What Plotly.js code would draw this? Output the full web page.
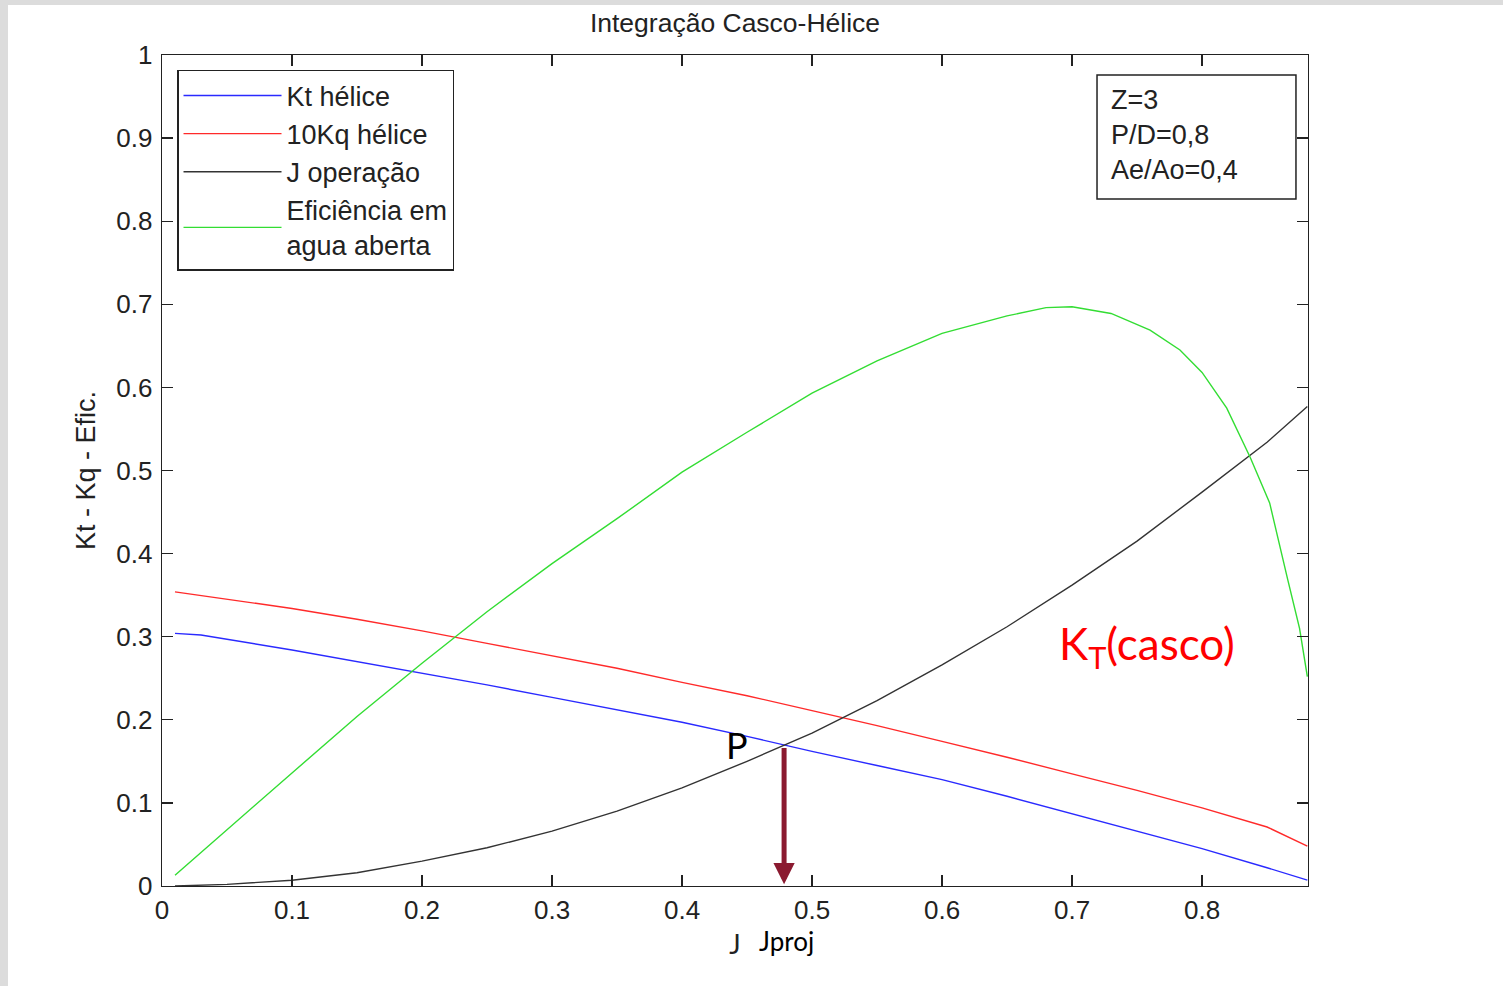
<!DOCTYPE html>
<html>
<head>
<meta charset="utf-8">
<script src="https://cdn.plot.ly/plotly-3.0.1.min.js"></script>
<style>
html,body{margin:0;padding:0;background:#dcdcdc;overflow:hidden;}
#chart{position:absolute;left:8px;top:5px;width:1495px;height:981px;background:#fff;}
</style>
</head>
<body>
<div id="chart"></div>
<script>
// J values (advance coefficient)
const jKt = [0.01,0.03,0.1,0.15,0.2,0.25,0.3,0.35,0.4,0.45,0.5,0.55,0.6,0.65,0.7,0.75,0.8,0.85,0.881];
const ktHelice = [0.304,0.302,0.284,0.270,0.256,0.242,0.227,0.212,0.197,0.180,0.162,0.145,0.128,0.108,0.087,0.066,0.045,0.022,0.007];

const jKq = [0.01,0.05,0.1,0.15,0.2,0.25,0.3,0.35,0.4,0.45,0.5,0.55,0.6,0.65,0.7,0.75,0.8,0.85,0.881];
const kq10Helice = [0.354,0.345,0.334,0.321,0.307,0.292,0.277,0.262,0.245,0.229,0.211,0.193,0.174,0.155,0.135,0.115,0.094,0.071,0.048];

const jOp = [0.01,0.05,0.1,0.15,0.2,0.25,0.3,0.35,0.4,0.45,0.5,0.55,0.6,0.65,0.7,0.75,0.8,0.85,0.881];
const jOperacao = [0.0,0.002,0.007,0.016,0.030,0.046,0.066,0.090,0.118,0.150,0.184,0.223,0.266,0.312,0.362,0.415,0.474,0.534,0.577];

const jEf = [0.01,0.05,0.1,0.15,0.2,0.25,0.283,0.3,0.35,0.4,0.45,0.5,0.55,0.6,0.65,0.68,0.7,0.73,0.76,0.783,0.8,0.819,0.837,0.852,0.866,0.875,0.881];
const eficiencia = [0.013,0.068,0.136,0.204,0.268,0.330,0.368,0.388,0.442,0.498,0.546,0.593,0.632,0.665,0.686,0.696,0.697,0.689,0.669,0.645,0.618,0.575,0.516,0.461,0.368,0.310,0.252];

const xTicks = [0,0.1,0.2,0.3,0.4,0.5,0.6,0.7,0.8];
const xTickText = ['0','0.1','0.2','0.3','0.4','0.5','0.6','0.7','0.8'];
const yTicks = [0,0.1,0.2,0.3,0.4,0.5,0.6,0.7,0.8,0.9,1];
const yTickText = ['0','0.1','0.2','0.3','0.4','0.5','0.6','0.7','0.8','0.9','1'];

const jProj = 0.4785;   // design point J
const ktProj = 0.168;   // Kt at point P
const pointLabel = {j: 0.4423, v: 0.170, text: 'P'};
const cascoLabel = {j: 0.758, v: 0.288, text: 'K<sub>T</sub>(casco)'};
const propText = 'Z=3<br>P/D=0,8<br>Ae/Ao=0,4';

const F = 'Arial, "Liberation Sans", sans-serif';
const G = 'Lato, "Open Sans", sans-serif';

const traces = [
  {x: jKt, y: ktHelice, name: 'Kt hélice', mode: 'lines', line: {color: '#2a2aff', width: 1.4}},
  {x: jKq, y: kq10Helice, name: '10Kq hélice', mode: 'lines', line: {color: '#ff2a2a', width: 1.4}},
  {x: jOp, y: jOperacao, name: 'J operação', mode: 'lines', line: {color: '#333333', width: 1.4}},
  {x: jEf, y: eficiencia, name: 'Eficiência em<br>agua aberta', mode: 'lines', line: {color: '#33dd33', width: 1.4}}
];

const axisCommon = {
  showgrid: false, zeroline: false, showline: true, linecolor: '#222', linewidth: 1.3,
  mirror: 'allticks', ticks: 'inside', ticklen: 11, tickcolor: '#222', tickwidth: 1.3,
  tickfont: {family: F, size: 26, color: '#222'}, tickmode: 'array'
};

const layout = {
  width: 1495, height: 981,
  margin: {l: 154, r: 195, t: 50, b: 100},
  paper_bgcolor: '#ffffff', plot_bgcolor: '#ffffff',
  title: {text: 'Integração Casco-Hélice', font: {family: F, size: 26.5, color: '#222'}, x: 0.5, xref: 'paper', y: 0.982, yanchor: 'middle'},
  xaxis: Object.assign({}, axisCommon, {range: [0, 0.8815], tickvals: xTicks, ticktext: xTickText, ticklabelstandoff: 0,
    title: {text: 'J', font: {family: G, size: 27, color: '#222'}, standoff: 11}}),
  yaxis: Object.assign({}, axisCommon, {range: [0, 1], tickvals: yTicks, ticktext: yTickText, ticklabelstandoff: 3,
    title: {text: 'Kt - Kq - Efic.', font: {family: F, size: 27, color: '#222'}, standoff: 13}}),
  showlegend: true,
  legend: {x: 0.0131, y: 0.982, xanchor: 'left', yanchor: 'top', bgcolor: '#ffffff',
    bordercolor: '#222', borderwidth: 1.5, font: {family: F, size: 27, color: '#222'},
    itemwidth: 98, tracegroupgap: 0},
  shapes: [
    {type: 'rect', xref: 'paper', yref: 'paper', x0: 0.8159, x1: 0.9895, y0: 0.8267, y1: 0.9759,
     line: {color: '#222', width: 1.5}, fillcolor: '#ffffff'}
  ],
  annotations: [
    {xref: 'paper', yref: 'paper', x: 0.8265, y: 0.966, xanchor: 'left', yanchor: 'top', align: 'left',
     showarrow: false, text: propText, font: {family: F, size: 27, color: '#222'}},
    {x: pointLabel.j, y: pointLabel.v, xref: 'x', yref: 'y', text: pointLabel.text, showarrow: false,
     font: {family: G, size: 36, color: '#000'}},
    {x: cascoLabel.j, y: cascoLabel.v, xref: 'x', yref: 'y', text: cascoLabel.text, showarrow: false,
     font: {family: G, size: 44, color: '#ff0000'}},
    {x: jProj, y: 0.002, xref: 'x', yref: 'y', ax: jProj, ay: ktProj, axref: 'x', ayref: 'y',
     showarrow: true, arrowhead: 2, arrowsize: 0.85, arrowwidth: 5, arrowcolor: '#8b1a30', text: ''},
    {x: jProj + 0.002, xref: 'x', yref: 'paper', y: -0.066, text: 'Jproj', showarrow: false, yanchor: 'middle',
     font: {family: G, size: 26, color: '#000'}}
  ]
};

Plotly.newPlot('chart', traces, layout, {displayModeBar: false, staticPlot: true});
</script>
</body>
</html>
